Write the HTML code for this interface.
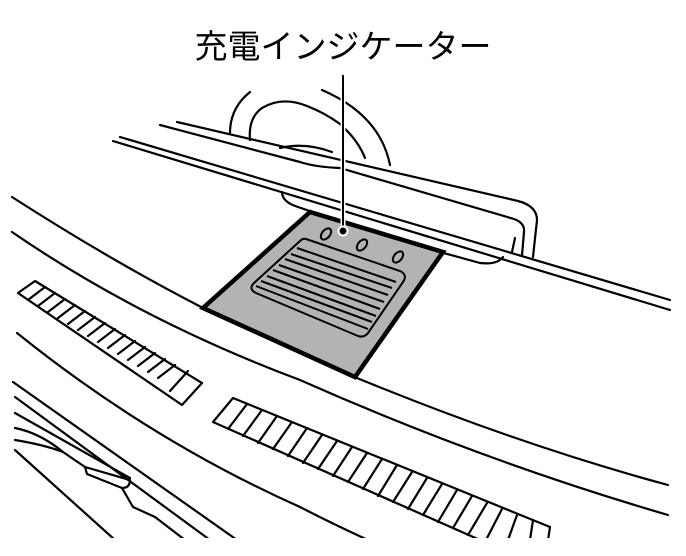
<!DOCTYPE html>
<html><head><meta charset="utf-8"><style>
html,body{margin:0;padding:0;background:#fff;}
svg{display:block;}
</style></head><body>
<svg width="686" height="556" viewBox="0 0 686 556" xmlns="http://www.w3.org/2000/svg">
<defs><clipPath id="c"><rect x="0" y="0" width="686" height="538"/></clipPath></defs>
<text x="343" y="58" text-anchor="middle" font-family="'Liberation Sans','Noto Sans CJK JP',sans-serif" font-size="33" fill="#000">充電インジケーター</text>
<g fill="none" stroke="#000" stroke-width="2.2" stroke-linecap="round" stroke-linejoin="round">
<path d="M250,92 Q230,108 230,133"/>
<path d="M322,90 Q380,115 390,165"/>
<path d="M250,140 Q248,118 262,108 Q282,96 307,106 Q325,113 340,124 Q358,140 365,158"/>
<path d="M280,148 Q305,142 332,152"/>
<path d="M177,122 L518,201 Q537,206 537,220 L533,257"/>
<path d="M160,125 L300,162 Q315,167 340,168 L514,219 Q525,223 524,232 L522,255"/>
<path d="M515,238 L512,252"/>
<path d="M282,192 Q282,202 298,207 L330,218"/>
<path d="M440,252 L480,263 Q497,265 503,257"/>
<path d="M120,137 L670,300"/>
<path d="M113,141 L670,310"/>
<path d="M12,197 Q110,260 203,308"/>
<path d="M357,378 Q520,445 668,485"/>
<path d="M12,232 Q140,320 300,380 Q480,460 668,515"/>
<g clip-path="url(#c)">
<path d="M17,333 Q150,440 300,507 Q335,525 368,540"/>
<path d="M13,382 L237,540"/>
<path d="M15,397 L210,540"/>
<path d="M15,413 L130,478"/>
<path d="M15,428 Q40,433 63,452 L85,467 L87,474 L122,488 Q130,488 130,480 L85,467"/>
<path d="M15,440 Q45,445 63,452"/>
<path d="M122,488 L133,507 L155,517 L185,540"/>
<path d="M15,450 L115,540"/>
<path d="M18,293 L35,281 L202,383 L182,405 Z"/>
<path d="M28,300L45,287 M38,306L55,293 M48,312L65,299 M58,318L75,305 M68,324L85,311 M78,330L95,317 M88,336L105,323 M98,342L115,329 M108,348L125,335 M118,354L135,341 M128,360L145,347 M138,366L155,353 M148,372L165,359 M158,378L175,365 M170,391L188,371"/>
<path d="M213,422 L233,398 L550,527 L548,540 M213,422 L480,540"/>
<path d="M228,429L247,404 M243,436L262,410 M258,443L277,416 M273,449L292,422 M288,456L307,428 M303,463L322,435 M318,469L337,441 M333,476L352,447 M348,482L367,453 M363,489L382,459 M378,496L397,465 M393,502L412,472 M408,509L427,478 M423,515L442,484 M438,522L457,490 M453,528L472,496 M468,535L487,503 M486,540L502,509 M508,540L517,515 M530,540L533,520"/>
</g>
</g>
<path d="M310,212 L443,252 L355,377 L203,308 Z" fill="#b3b3b3" stroke="#000" stroke-width="4.5" stroke-linejoin="miter"/>
<g fill="none" stroke="#000" stroke-width="2">
<path d="M306,239 L400,271 Q408,275 403,282 L368,333 Q364,338 358,336 L256,293 Q248,289 254,283 L300,241 Q303,238 306,239 Z"/>
<path d="M297,248 L396,282 M291,254 L392,288 M285,259 L388,295 M279,265 L384,302 M273,270 L380,309 M267,276 L376,316 M261,281 L372,322 M256,286 L368,329"/>
<ellipse cx="326" cy="234" rx="4" ry="6.5" transform="rotate(40 326 234)"/>
<ellipse cx="362" cy="245" rx="4" ry="6.5" transform="rotate(40 362 245)"/>
<ellipse cx="398" cy="257" rx="4" ry="6.5" transform="rotate(40 398 257)"/>
</g>
<line x1="343" y1="75" x2="343" y2="230" stroke="#fff" stroke-width="5"/>
<line x1="343" y1="75" x2="343" y2="230" stroke="#000" stroke-width="2"/>
<circle cx="343" cy="231" r="4.5" fill="#000" stroke="#fff" stroke-width="2"/>
</svg>
</body></html>
